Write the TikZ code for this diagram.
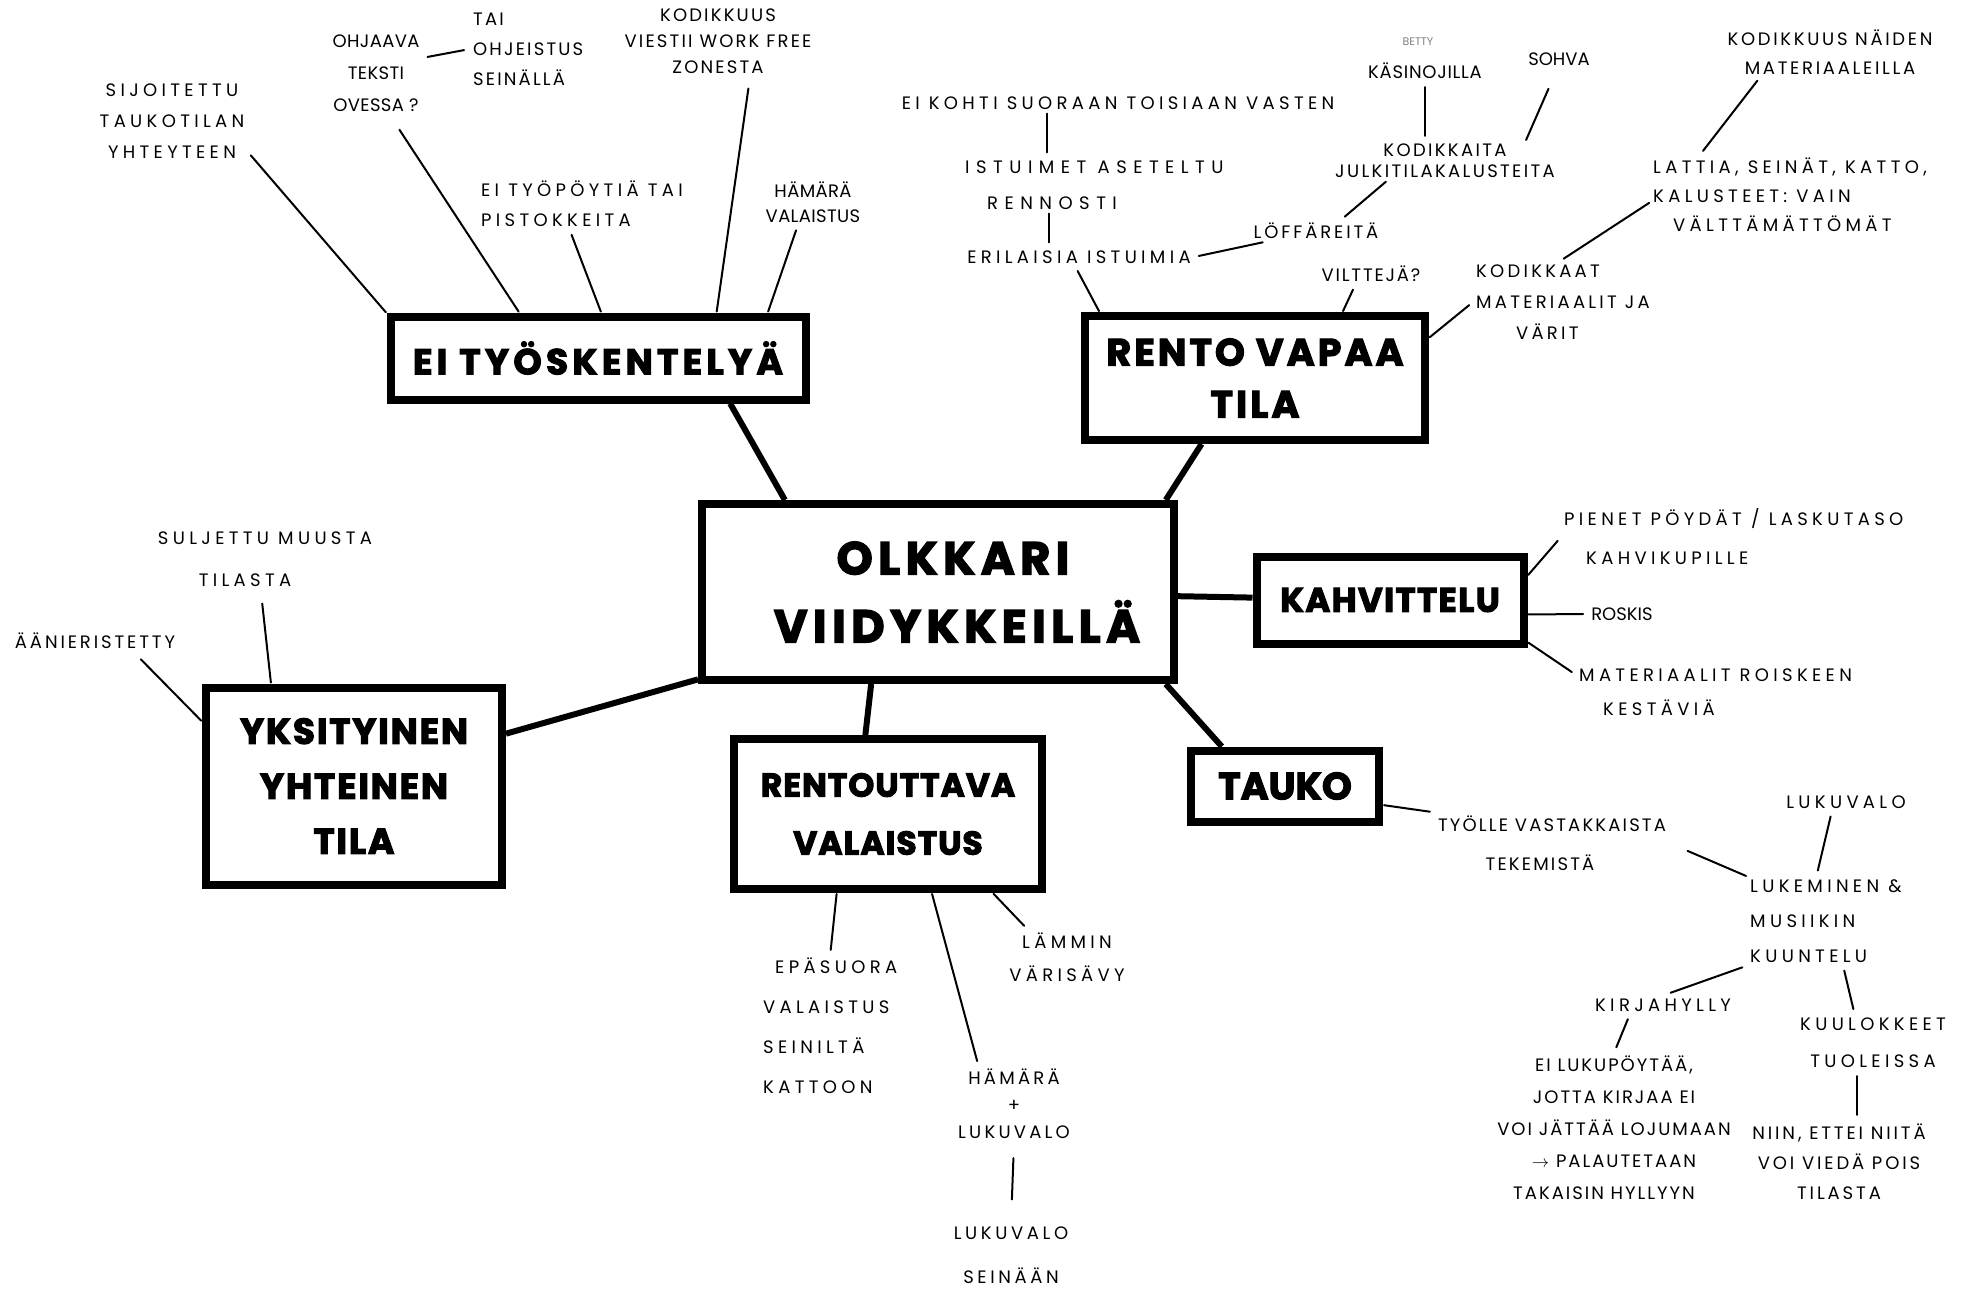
\documentclass[tikz,border=0pt]{standalone}
\usepackage{fontspec}
\setmainfont{Poppins}
\usetikzlibrary{positioning,calc}

\tikzset{
  hub/.style={draw, line width=8pt, fill=white, inner sep=0pt, align=center,
    node font=\bfseries\fontsize{36}{55}\selectfont, font=\addfontfeatures{FakeBold=3}},
  note/.style={align=center, inner sep=3pt, node font=\fontsize{18}{#1}\selectfont,
    font=\addfontfeatures{LetterSpace=24}},
  note/.default=30,
  ls/.style={font=\addfontfeatures{LetterSpace=#1}},
  hubls/.style={font=\addfontfeatures{FakeBold=3,LetterSpace=#1}},
  trunk/.style={line width=6pt},
  twig/.style={line width=2pt, line cap=round, shorten <=5pt, shorten >=1pt},
}

\begin{document}
\begin{tikzpicture}[x=1pt, y=-1pt]
  \fill[white] (0,0) rectangle (1978,1291);
  \useasboundingbox (0,0) rectangle (1978,1291);

  % --- main boxes ---
  \node[hub, node font=\bfseries\fontsize{46}{68}\selectfont, hubls=12,
    minimum width=472pt, minimum height=176pt] (olk) at (938,592) {\hspace*{30pt}OLKKARI\\\hspace*{38pt}VIIDYKKEILLÄ};
  \node[hub, hubls=12, minimum width=415pt, minimum height=83pt] (eity) at (598,358) {EI TYÖSKENTELYÄ};
  \node[hub, node font=\bfseries\fontsize{38}{52}\selectfont, hubls=8,
    minimum width=340pt, minimum height=124pt] (rento) at (1255,378) {RENTO VAPAA\\TILA};
  \node[hub, node font=\bfseries\fontsize{34}{50}\selectfont, hubls=4,
    minimum width=267pt, minimum height=87pt] (kahvi) at (1390,600) {KAHVITTELU};
  \node[hub, hubls=5, minimum width=296pt, minimum height=197pt] (yksi) at (354,786) {YKSITYINEN\\YHTEINEN\\TILA};
  \node[hub, node font=\bfseries\fontsize{33}{58}\selectfont, hubls=3,
    minimum width=308pt, minimum height=150pt] (valo) at (888,814) {RENTOUTTAVA\\VALAISTUS};
  \node[hub, node font=\bfseries\fontsize{38}{50}\selectfont,
    minimum width=188pt, minimum height=71pt] (tauko) at (1285,786) {TAUKO};

  \draw[trunk] (olk.149.7) -- (eity.-19.6);
  \draw[trunk] (olk.22.7) -- (rento.-129.7);
  \draw[trunk] (olk.-160.5) -- (yksi.19.7);
  \draw[trunk] (olk.-126.5) -- (valo.106.9);
  \draw[trunk] (olk.-1.4) -- (kahvi.179.4);
  \draw[trunk] (olk.-22.3) -- (tauko.148.7);

  % --- EI TYÖSKENTELYÄ ---
  \node[note=31] (sijo) at (172,121) {SIJOITETTU\\TAUKOTILAN\\YHTEYTEEN};
  \node[note=32, ls=2] (ohjaava) at (376,73) {OHJAAVA\\TEKSTI\\OVESSA ?};
  \node[note, ls=12, align=left, anchor=west] (tai) at (470,49) {TAI\\OHJEISTUS\\SEINÄLLÄ};
  \node[note=26, ls=12] (kodik) at (718,41) {KODIKKUUS\\VIESTII WORK FREE\\ZONESTA};
  \node[note, align=left, anchor=west] (eipoyt) at (478,204) {EI TYÖPÖYTIÄ TAI\\PISTOKKEITA};
  \node[note=25, ls=2] (hamara) at (813,202) {HÄMÄRÄ\\VALAISTUS};

  \draw[twig] (sijo.-22) -- (eity.168);
  \draw[twig, shorten <=18pt] (ohjaava.-72) -- (eity.150);
  \draw[twig] (eipoyt.-115) -- (eity.86);
  \draw[twig, shorten <=12pt] (kodik.-48) -- (eity.21.5);
  \draw[twig] (hamara.-123) -- (eity.15);
  \draw[twig, shorten >=6pt] (ohjaava.18) -- (tai.west);

  % --- RENTO VAPAA TILA ---
  \node[note] (eikohti) at (1118,103) {EI KOHTI SUORAAN TOISIAAN VASTEN};
  \node[note=36, ls=36, align=left, anchor=west] (istuimet) at (962,185) {ISTUIMET ASETELTU\\\hspace*{22pt}RENNOSTI};
  \node[note] (erilaisia) at (1079,257) {ERILAISIA ISTUIMIA};
  \node[text=gray, font=\fontsize{11}{11}\selectfont] (betty) at (1418,42) {BETTY};
  \node[note, ls=4] (kasino) at (1425,71) {KÄSINOJILLA};
  \node[note, ls=0] (sohva) at (1559,59) {SOHVA};
  \node[note=21, ls=13] (kodikkaita) at (1445,161) {KODIKKAITA\\JULKITILAKALUSTEITA};
  \node[note, ls=16] (loffa) at (1316,231) {LÖFFÄREITÄ};
  \node[note, ls=10] (viltte) at (1371,274) {VILTTEJÄ?};
  \node[note=29, ls=15] (kodik2) at (1830,52) {KODIKKUUS NÄIDEN\\MATERIAALEILLA};
  \node[note=29, align=left, anchor=west] (lattia) at (1650,195) {LATTIA, SEINÄT, KATTO,\\KALUSTEET: VAIN\\\hspace*{20pt}VÄLTTÄMÄTTÖMÄT};
  \node[note=31, ls=18, align=left, anchor=west] (kodikkaat) at (1473,302) {KODIKKAAT\\MATERIAALIT JA\\\hspace*{40pt}VÄRIT};

  \draw[twig] (istuimet.150) -- (istuimet.150 |- eikohti.south);
  \draw[twig] (erilaisia.162) -- (erilaisia.162 |- istuimet.south);
  \draw[twig] (erilaisia.-111) -- (rento.157.2);
  \draw[twig] (erilaisia.east) -- (loffa.-168);
  \draw[twig] (loffa.24) -- (kodikkaita.-161);
  \draw[twig, shorten >=5pt] (kasino.south) -- (kasino.south |- kodikkaita.north);
  \draw[twig, shorten <=22pt] (sohva.-100) -- (kodikkaita.14.5);
  \draw[twig] (viltte.-145) -- (rento.37.5);
  \draw[twig] (kodikkaat.west) -- (rento.13.3);
  \draw[twig] (kodikkaat.95) -- (lattia.-177);
  \draw[twig, shorten >=4pt] (lattia.156) -- (kodik2.-160);

  % --- YKSITYINEN YHTEINEN TILA ---
  \node[note=42] (suljettu) at (265,559) {SULJETTU MUUSTA\\TILASTA\hspace*{40pt}};
  \node[note, ls=16] (aanier) at (95,641) {ÄÄNIERISTETTY};

  \draw[twig, shorten <=14pt] (suljettu.-98) -- (yksi.129);
  \draw[twig, shorten <=10pt] (aanier.-16) -- (yksi.157.3);

  % --- KAHVITTELU ---
  \node[note=39, align=left, anchor=west] (pienet) at (1561,537) {PIENET PÖYDÄT / LASKUTASO\\\hspace*{22pt}KAHVIKUPILLE};
  \node[note, ls=0] (roskis) at (1622,614) {ROSKIS};
  \node[note=34, align=left, anchor=west] (mater) at (1576,692) {MATERIAALIT ROISKEEN\\\hspace*{24pt}KESTÄVIÄ};

  \draw[twig] (pienet.west) -- (kahvi.10.1);
  \draw[twig] (roskis.west) -- (kahvi.-6.8);
  \draw[twig] (mater.173) -- (kahvi.-17.2);

  % --- RENTOUTTAVA VALAISTUS ---
  \node[note=40, align=left, anchor=west] (epasuora) at (760,1026) {\hspace*{12pt}EPÄSUORA\\VALAISTUS\\SEINILTÄ\\KATTOON};
  \node[note=27, ls=18] (hamara2) at (1014,1104) {HÄMÄRÄ\\+\\LUKUVALO};
  \node[note=44, ls=20] (lukuvalo2) at (1011,1255) {LUKUVALO\\SEINÄÄN};
  \node[note=33] (lammin) at (1067,957) {LÄMMIN\\VÄRISÄVY};

  \draw[twig] (epasuora.north) -- (valo.-123.4);
  \draw[twig] (hamara2.133) -- (valo.-61.4);
  \draw[twig, shorten <=16pt, shorten >=24pt] (hamara2.south) -- (lukuvalo2.north);
  \draw[twig] (lammin.145) -- (valo.-37.8);

  % --- TAUKO ---
  \node[note=39, ls=12] (tyolle) at (1552,843) {TYÖLLE VASTAKKAISTA\\TEKEMISTÄ\hspace*{24pt}};
  \node[note=35, align=left, anchor=west] (lukeminen) at (1747,921) {LUKEMINEN \&\\MUSIIKIN\\KUUNTELU};
  \node[note] (lukuvalo3) at (1846,802) {LUKUVALO};
  \node[note] (kirjahylly) at (1663,1005) {KIRJAHYLLY};
  \node[note=32, ls=11] (eiluku) at (1614,1128) {EI LUKUPÖYTÄÄ,\\JOTTA KIRJAA EI\\VOI JÄTTÄÄ LOJUMAAN\\$\rightarrow$ PALAUTETAAN\hspace*{30pt}\\TAKAISIN HYLLYYN\hspace*{20pt}};
  \node[note=37] (kuulokkeet) at (1873,1043) {KUULOKKEET\\TUOLEISSA};
  \node[note=30, ls=16] (niin) at (1839,1162) {NIIN, ETTEI NIITÄ\\VOI VIEDÄ POIS\\TILASTA};

  \draw[twig] (tyolle.north west) -- (tauko.-11.3);
  \draw[twig, shorten <=20pt] (tyolle.east) -- (lukeminen.north west);
  \draw[twig, shorten >=6pt] (lukuvalo3.-146.7) -- (lukeminen.102);
  \draw[twig, shorten >=8pt] (lukeminen.south west) -- (kirjahylly.north);
  \draw[twig, shorten >=6pt] (kirjahylly.-164) -- (eiluku.north);
  \draw[twig, shorten >=6pt] (lukeminen.-69.5) -- (kuulokkeet.123);
  \draw[twig, shorten >=6pt] (kuulokkeet.-120) -- (kuulokkeet.-120 |- niin.north);
\end{tikzpicture}
\end{document}
